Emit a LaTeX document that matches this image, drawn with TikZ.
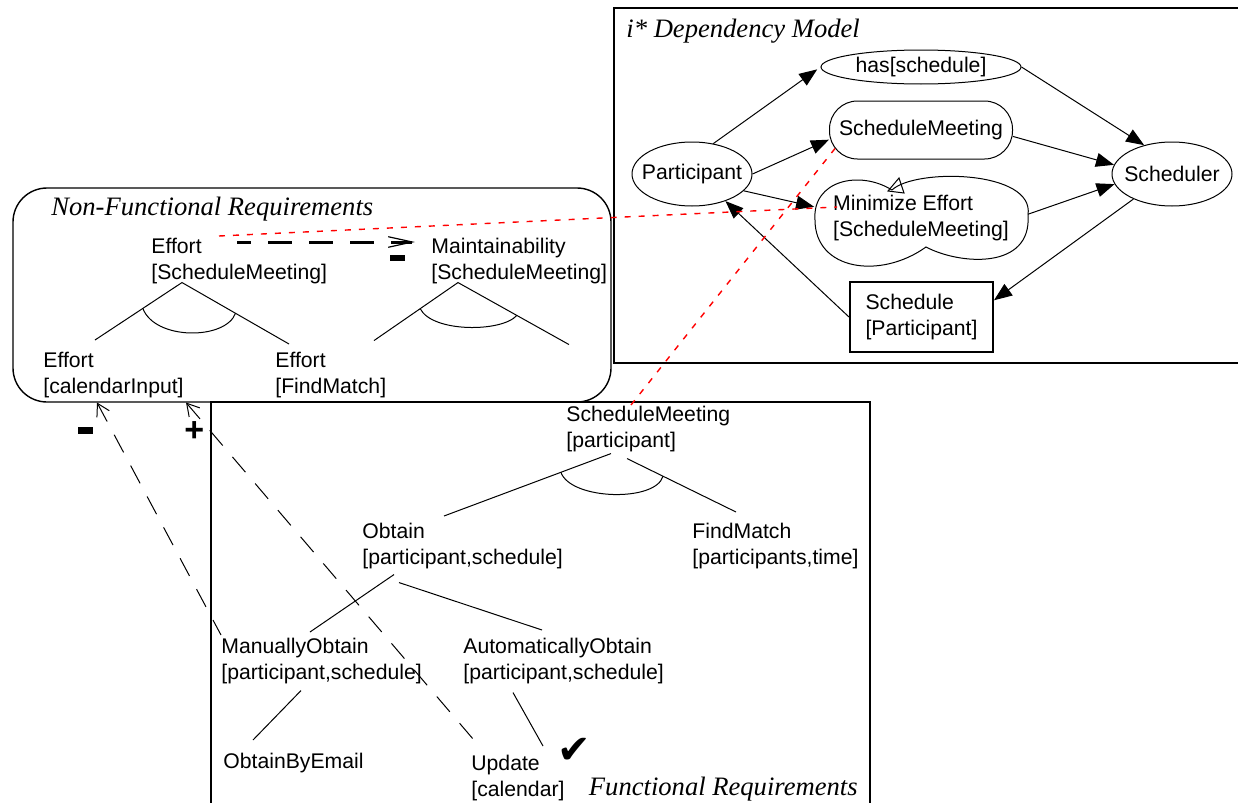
\documentclass[tikz,border=0pt]{standalone}
\usepackage{fontspec}
\setmainfont{Liberation Sans}
\newfontfamily\serifit{Liberation Serif}
\newfontfamily\dingfont{DejaVu Sans}
\usetikzlibrary{shapes, arrows.meta, positioning, calc}

\begin{document}
\begin{tikzpicture}[
    x=0.5pt, y=-0.5pt,
    every node/.style={font=\fontsize{10.6}{13}\selectfont},
    txt/.style={align=left, inner sep=0pt, anchor=north west},
    boxtitle/.style={font=\serifit\itshape\fontsize{13.3}{15}\selectfont, inner sep=0pt},
    panel/.style={line width=1.1pt},
    nfrbox/.style={line width=0.7pt, rounded corners=17pt},
    actor/.style={ellipse, draw, line width=0.5pt, minimum width=60pt, minimum height=32pt, inner sep=0pt},
    goal/.style={draw, line width=0.5pt, rounded corners=14pt, minimum width=91.5pt, minimum height=29pt},
    dep/.style={line width=0.5pt, -{Triangle[length=9pt,width=7pt]}},
    link/.style={line width=0.5pt},
    contrib/.style={line width=0.5pt, dash pattern=on 10pt off 7.5pt, {Straight Barb[length=6pt,width=7pt]}-},
    nfrdash/.style={line width=1.5pt, dash pattern=on 12pt off 8.5pt, dash phase=5pt,
        -{Straight Barb[length=12pt,width=5.3pt,line width=0.6pt]}},
    trace/.style={red, line width=0.7pt, dash pattern=on 3pt off 4pt},
    hurts/.style={fill=black, inner sep=0pt, minimum width=7.5pt, minimum height=3.3pt},
    helps/.style={font=\fontsize{17}{17}\bfseries\selectfont, inner sep=0pt}
]
\useasboundingbox (0,0) rectangle (1238,803);

% i* dependency model
\draw[panel] (1245,8) -- (614,8) -- (614,363) -- (1245,363);
\node[boxtitle, anchor=base west] (istar-title) at (626,38) {i* Dependency Model};
\node[actor, label=center:Participant] (part) at (692,174) {};
\node[actor, label=center:Scheduler] (sched) at (1172,174) {};
\node[ellipse, draw, line width=0.5pt, minimum width=100pt, minimum height=17pt, inner sep=0pt] (has) at (921,67) {has[schedule]};
\node[goal] (sm) at (921,130) {ScheduleMeeting};
\node[align=left, minimum width=106.5pt, minimum height=45pt] (me) at (921,218) {Minimize Effort\\{[ScheduleMeeting]}};
\draw[line width=0.5pt, shift={(me.center)}] (-29,-28) .. controls (-6,-50) and (114,-48) .. (107,-3)
    .. controls (111,52) and (39,47) .. (5,29) .. controls (-41,62) and (-106,52) .. (-106,2)
    .. controls (-109,-38) and (-61,-48) .. (-29,-28);
\draw[line width=0.5pt, shift={(me.center)}] (-33,-27) -- (-17,-25) -- (-22,-40) -- cycle;
\node[draw, line width=1pt, minimum width=71.5pt, minimum height=35pt, align=left] (schp) at (921.5,317) {Schedule\\{[Participant]}};

\draw[dep, shorten >=2pt] (part.55) -- (has.west);
\draw[dep] (has.east) -- (sched.134);
\draw[dep] (part.east) -- (sm.186);
\draw[dep] (sm.-4) -- (sched.171);
\draw[dep] (part.-18) -- (me.174);
\draw[dep] (me.2) -- (sched.190);
\draw[dep] (sched.213) -- (schp.13);
\draw[dep] (schp.west) -- (part.-39);

% non-functional requirements
\draw[nfrbox] (13,188) rectangle (611,402);
\node[boxtitle, anchor=base west] (nfr-title) at (51,215) {Non-Functional Requirements};
\node[txt] (effsm) at (151,238) {Effort\\{[ScheduleMeeting]}};
\node[txt] (maint) at (431,238) {Maintainability\\{[ScheduleMeeting]}};
\node[txt] (effci) at (43,352) {Effort\\{[calendarInput]}};
\node[txt] (efffm) at (275,352) {Effort\\{[FindMatch]}};

\coordinate (effsm-and) at ($(effsm.south west)+(31,-2)$);
\coordinate (effci-up) at ($(effci.north west)+(52,-12)$);
\coordinate (efffm-up) at ($(efffm.north west)+(14,-8)$);
\draw[link] (effci-up) -- (effsm-and) -- (efffm-up);
\draw[link] ($(effsm-and)!0.45!(effci-up)$) .. controls +(12,32) and +(-10,27) .. ($(effsm-and)!0.5!(efffm-up)$);

\coordinate (maint-and) at ($(maint.south west)+(27,-2)$);
\coordinate (maint-l) at ($(maint-and)+(-84,58)$);
\coordinate (maint-r) at ($(maint-and)+(111,62)$);
\draw[link] (maint-l) -- (maint-and) -- (maint-r);
\draw[link] ($(maint-and)!0.45!(maint-l)$) .. controls +(12,24) and +(-15,17) .. ($(maint-and)!0.53!(maint-r)$);

\draw[nfrdash] ($(effsm.north west)+(86,4)$) -- node[hurts, pos=0.9, below=5.5pt] {} ($(maint.north west)+(-16,4)$);

% functional requirements
\draw[panel] (211,810) -- (211,402) -- (870,402) -- (870,810);
\node[boxtitle, anchor=base east] (fr-title) at (858,795) {Functional Requirements};
\node[txt] (fsm) at (566,406) {ScheduleMeeting\\{[participant]}};
\node[txt] (obtain) at (362,523) {Obtain\\{[participant,schedule]}};
\node[txt] (findm) at (692,523) {FindMatch\\{[participants,time]}};
\node[txt] (manob) at (221,638) {ManuallyObtain\\{[participant,schedule]}};
\node[txt] (autob) at (463,638) {AutomaticallyObtain\\{[participant,schedule]}};
\node[txt] (email) at (223,753) {ObtainByEmail};
\node[txt] (update) at (471,755) {Update\\{[calendar]}};
\node[font=\dingfont\fontsize{20}{20}\selectfont, inner sep=0pt] (done) at ($(update.north east)+(9,-4)$) {✔};

\coordinate (fsm-l) at ($(fsm.south west)+(45,1)$);
\coordinate (fsm-r) at ($(fsm.south west)+(61,6)$);
\coordinate (obtain-up) at ($(obtain.north west)+(82,-7)$);
\coordinate (findm-up) at ($(findm.north west)+(44,-11)$);
\draw[link] (fsm-l) -- (obtain-up);
\draw[link] (fsm-r) -- (findm-up);
\draw[link] ($(fsm-l)!0.3!(obtain-up)$) .. controls +(10,28) and +(-7,26) .. ($(fsm-r)!0.33!(findm-up)$);

\draw[link] ($(obtain.south west)+(32,5)$) -- ($(manob.north west)+(89,-6)$);
\draw[link] ($(obtain.south west)+(37,13)$) -- ($(autob.north west)+(79,-8)$);
\draw[link] ($(manob.south west)+(80,6)$) -- ($(email.north west)+(30,-13)$);
\draw[link] ($(autob.south west)+(50,8)$) -- ($(update.north west)+(72,-9)$);

% contributions to the softgoals
\draw[contrib] ($(effci.south west)+(54,4)$) -- node[hurts, pos=0.12, left=9pt] {} ($(manob.north west)+(0,-3)$);
\draw[contrib] ($(effci.south east)+(2,4)$) -- node[helps, pos=0.084, left=3pt] {+} ($(update.north west)+(8,-9)$);

% traces between the models
\draw[trace] ($(effsm.north west)+(68,-2)$) -- ($(me.west)+(23,-11)$);
\draw[trace] ($(fsm.north west)+(65,-1)$) -- ($(sm.south west)+(6,-11)$);
\end{tikzpicture}
\end{document}
